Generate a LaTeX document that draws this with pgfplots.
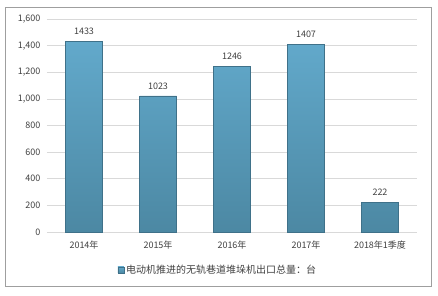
\documentclass[border=0pt]{standalone}
\usepackage{fontspec}
\setmainfont{Noto Sans CJK SC}
\usepackage{pgfplots}
\pgfplotsset{compat=1.18}
\definecolor{barA}{HTML}{62A9CB}
\definecolor{barB}{HTML}{4C88A3}
\definecolor{barE}{HTML}{3F7189}
\definecolor{gridc}{HTML}{D9D9D9}
\definecolor{txt}{HTML}{404040}
\begin{document}
\begin{tikzpicture}
\useasboundingbox (0pt,0pt) rectangle (438pt,295pt);
\draw[color=gray!75, line width=0.8pt] (5pt,9pt) rectangle (431pt,288pt);
\begin{axis}[
  at={(47pt,63pt)}, anchor=south west,
  scale only axis, width=370pt, height=213pt,
  ymin=0, ymax=1600, xmin=-0.5, xmax=4.5,
  ytick={0,200,...,1600},
  xtick=data,
  xticklabels={2014年,2015年,2016年,2017年,2018年1季度},
  axis y line*=left, axis x line*=bottom,
  y axis line style={draw=none},
  x axis line style={draw=gridc, line width=0.8pt},
  ymajorgrids, grid style={gridc, line width=0.6pt},
  major tick length=0pt,
  tick label style={font=\fontsize{9}{10}\selectfont, text=txt},
  /pgf/number format/assume math mode=true,
  /pgf/number format/1000 sep={,},
  yticklabel style={xshift=-3pt},
  xticklabel style={yshift=-5pt},
  nodes near coords,
  every node near coord/.append style={font=\fontsize{9}{10}\selectfont, text=txt, yshift=3pt, /pgf/number format/1000 sep={}},
  legend style={at={(0.462,-0.178)}, anchor=center, draw=none, font=\fontsize{10}{11}\selectfont, text=txt, inner sep=1pt},
  legend image code/.code={\fill[barB, draw=barE] (0pt,-3pt) rectangle (6pt,3pt);},
]
\addplot[ybar, bar width=37pt, draw=barE, line width=0.6pt, top color=barA, bottom color=barB]
coordinates {(0,1433) (1,1023) (2,1246) (3,1407) (4,222)};
\addlegendentry{电动机推进的无轨巷道堆垛机出口总量：台}
\end{axis}
\end{tikzpicture}
\end{document}
